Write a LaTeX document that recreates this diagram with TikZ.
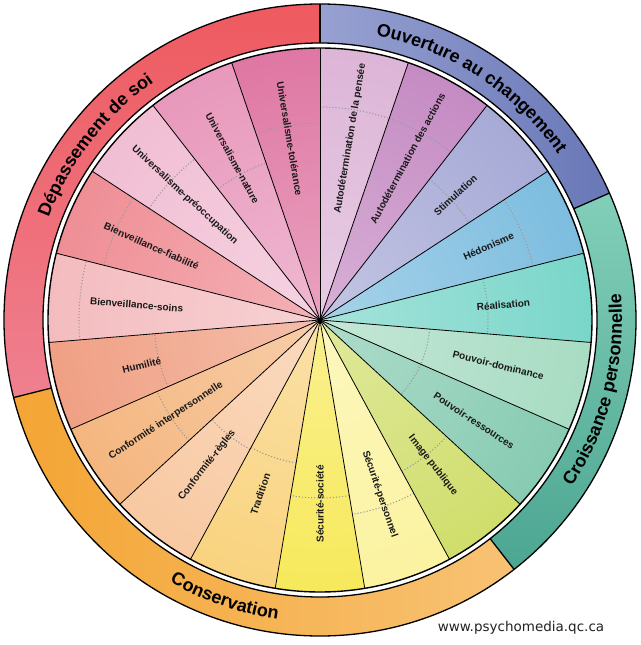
\documentclass[tikz,border=0pt]{standalone}
\usepackage{fontspec}
\setmainfont{Liberation Sans}
\newfontfamily\webfont{DejaVu Sans}
\usetikzlibrary{decorations.text}
\newcommand\ringfont{\fontsize{18}{20}\selectfont\bfseries}
\definecolor{cA}{HTML}{DDB5D7}
\definecolor{cB}{HTML}{C58BC3}
\definecolor{cC}{HTML}{A7AAD6}
\definecolor{cD}{HTML}{7DBDDF}
\definecolor{cE}{HTML}{7AD6CA}
\definecolor{cF}{HTML}{A8DCC3}
\definecolor{cG}{HTML}{87CBB2}
\definecolor{cH}{HTML}{D0DE6C}
\definecolor{cI}{HTML}{FBF3A0}
\definecolor{cJ}{HTML}{F7E95B}
\definecolor{cK}{HTML}{F9D37E}
\definecolor{cL}{HTML}{F8C9A2}
\definecolor{cM}{HTML}{F4B67F}
\definecolor{cN}{HTML}{F0A084}
\definecolor{cO}{HTML}{F4BCBF}
\definecolor{cP}{HTML}{EF8E95}
\definecolor{cQ}{HTML}{F1BED3}
\definecolor{cR}{HTML}{E898BC}
\definecolor{cS}{HTML}{DF77A3}
\definecolor{redT}{HTML}{EE5A5F}
\definecolor{redB}{HTML}{EF8090}
\definecolor{bluL}{HTML}{98A1D1}
\definecolor{bluR}{HTML}{6877B7}
\definecolor{grnT}{HTML}{82CFB8}
\definecolor{grnB}{HTML}{4CA692}
\definecolor{orgL}{HTML}{F4A534}
\definecolor{orgR}{HTML}{F8C274}
\definecolor{webgray}{HTML}{222222}
\definecolor{dotgray}{HTML}{9A9A9A}
\begin{document}
\begin{tikzpicture}[x=1pt,y=1pt,
  lbl/.style={font=\fontsize{10}{12}\selectfont\bfseries, text=black!90, inner sep=0pt},
  sepline/.style={line width=0.8pt, black},
  dotline/.style={line width=1.1pt, dotgray, dotted},
  ringline/.style={line width=1.3pt, black},
  webtext/.style={font=\webfont\fontsize{13.5}{15}\selectfont, text=webgray, inner sep=0pt}]
\useasboundingbox (-320,-325) rectangle (320,320);
% sectors
\foreach \c [count=\i] in {cA,cB,cC,cD,cE,cF,cG,cH,cI,cJ,cK,cL,cM,cN,cO,cP,cQ,cR,cS}{
  \pgfmathsetmacro\aS{90-(\i-1)*360/19}
  \pgfmathsetmacro\aE{90-\i*360/19}
  \begin{scope}
    \clip (0,0) -- (\aS:272) arc[start angle=\aS, end angle=\aE, radius=272] -- cycle;
    \shade[inner color=\c!68!white, outer color=\c] (0,0) circle (272);
  \end{scope}
}
% dotted arcs
\foreach \d [count=\i] in {213,213,178,220,168,110,110,172,197,178,145,147,178,166,241,223,204,166,197}{
  \pgfmathsetmacro\aS{90-(\i-1)*360/19}
  \pgfmathsetmacro\aE{90-\i*360/19}
  \draw[dotline] (\aS:\d) arc[start angle=\aS, end angle=\aE, radius=\d];
}
% separators
\foreach \i in {0,...,18}{
  \draw[sepline] (0,0) -- ({90-\i*360/19}:272);
}
\fill[black] (0,0) circle (2.2);
\draw[line width=1.4pt] (0,0) circle (272);
% labels
\foreach \t [count=\i] in {{Autodétermination de la pensée},{Autodétermination des actions},{Stimulation},{Hédonisme},{Réalisation},{Pouvoir-dominance},{Pouvoir-ressources},{Image publique},{Sécurité-personnel},{Sécurité-société},{Tradition},{Conformité-règles},{Conformité interpersonnelle},{Humilité},{Bienveillance-soins},{Bienveillance-fiabilité},{Universalisme-préoccupation},{Universalisme-nature},{Universalisme-tolérance}}{
  \pgfmathsetmacro\aM{90-(\i-0.5)*360/19}
  \pgfmathsetmacro\rot{\aM < -89 ? \aM+180 : \aM}
  \node[lbl, rotate=\rot] (lbl\i) at (\aM:184) {\t};
}
% outer ring segments
\def\Ri{277}\def\Ro{316}
\shade[top color=redT, bottom color=redB] (90:\Ri) -- (90:\Ro) arc[start angle=90, end angle=194.21, radius=\Ro] -- (194.21:\Ri) arc[start angle=194.21, end angle=90, radius=\Ri] -- cycle;
\shade[left color=bluL, right color=bluR] (23.68:\Ri) -- (23.68:\Ro) arc[start angle=23.68, end angle=90, radius=\Ro] -- (90:\Ri) arc[start angle=90, end angle=23.68, radius=\Ri] -- cycle;
\shade[top color=grnT, bottom color=grnB] (-52.11:\Ri) -- (-52.11:\Ro) arc[start angle=-52.11, end angle=23.68, radius=\Ro] -- (23.68:\Ri) arc[start angle=23.68, end angle=-52.11, radius=\Ri] -- cycle;
\shade[left color=orgL, right color=orgR] (194.21:\Ri) -- (194.21:\Ro) arc[start angle=194.21, end angle=307.89, radius=\Ro] -- (307.89:\Ri) arc[start angle=307.89, end angle=194.21, radius=\Ri] -- cycle;
\draw[ringline] (0,0) circle (\Ri);
\draw[ringline] (0,0) circle (\Ro);
\foreach \a in {90,23.68,-52.11,194.21}{
  \draw[ringline] (\a:\Ri) -- (\a:\Ro);
}
% ring texts
\path[decorate, decoration={text along path, text align=center, text={|\ringfont|Dépassement de soi}}] (194.21:290) arc[start angle=194.21, end angle=90, radius=290];
\path[decorate, decoration={text along path, text align=center, text={|\ringfont|Ouverture au changement}}] (90:290) arc[start angle=90, end angle=23.68, radius=290];
\path[decorate, decoration={text along path, text align=center, text={|\ringfont|Croissance personnelle}}] (-52.11:302) arc[start angle=-52.11, end angle=23.68, radius=302];
\path[decorate, decoration={text along path, text align=center, text={|\ringfont|Conservation}}] (194.21:302) arc[start angle=194.21, end angle=307.89, radius=302];
% watermark
\node[webtext] (web) at (201,-308) {www.psychomedia.qc.ca};
\end{tikzpicture}
\end{document}
